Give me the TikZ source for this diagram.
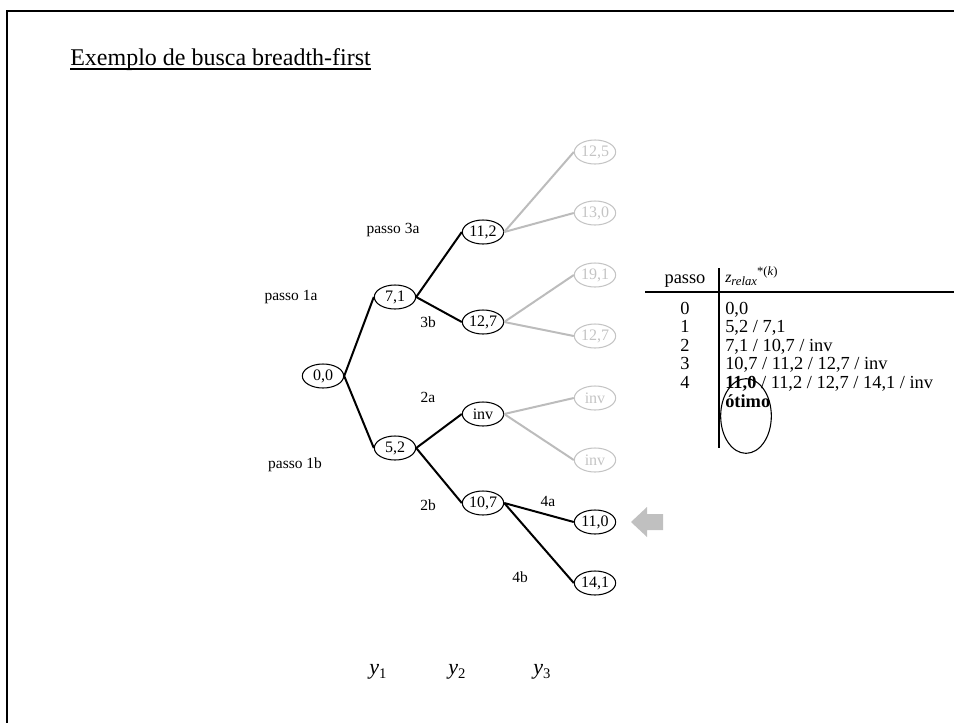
\documentclass[tikz,border=0pt]{standalone}
\usepackage{fontspec}
\setmainfont{Liberation Serif}
\usetikzlibrary{shapes.geometric}
\definecolor{lgray}{RGB}{196,196,196}
\definecolor{egray}{RGB}{188,188,188}
\definecolor{agray}{RGB}{192,192,192}
\begin{document}
\begin{tikzpicture}[x=0.75pt,y=-0.75pt,
  nd/.style={ellipse,draw,line width=0.8pt,inner sep=0pt,minimum width=31pt,minimum height=18pt,font=\fontsize{12}{13}\selectfont},
  gnd/.style={nd,draw=lgray,text=lgray},
  lbl/.style={font=\fontsize{11.6}{12}\selectfont,inner sep=0pt},
  blk/.style={line width=1.5pt},
  gry/.style={line width=1.5pt,draw=egray},
  tb/.style={font=\fontsize{13.8}{15}\selectfont,inner sep=0pt}]
\useasboundingbox (0,0) rectangle (954,722);
% frame
\draw[line width=2pt] (7,740) -- (7,11) -- (970,11);
% title
\node[anchor=base west,inner sep=0pt,font=\fontsize{18}{20}\selectfont] (title) at (70,65) {Exemplo de busca breadth-first};
\draw[line width=1.4pt] ([yshift=-3pt]title.base west) -- ([yshift=-3pt]title.base east);
% tree nodes
\node[nd] (n00) at (323,376) {0,0};
\node[nd] (n71) at (395,297) {7,1};
\node[nd] (n52) at (395,448) {5,2};
\node[nd] (n112) at (483,232) {11,2};
\node[nd] (n127) at (483,322) {12,7};
\node[nd] (ninv) at (483,414) {inv};
\node[nd] (n107) at (483,503) {10,7};
\node[gnd] (g125) at (595,152) {12,5};
\node[gnd] (g130) at (595,213) {13,0};
\node[gnd] (g191) at (595,275) {19,1};
\node[gnd] (g127) at (595,336) {12,7};
\node[gnd] (ginv1) at (595,398) {inv};
\node[gnd] (ginv2) at (595,460) {inv};
\node[nd] (n110) at (595,522) {11,0};
\node[nd] (n141) at (595,583) {14,1};
% edges
\draw[blk] (n00.east) -- (n71.west);
\draw[blk] (n00.east) -- (n52.west);
\draw[blk] (n71.east) -- (n112.west);
\draw[blk] (n71.east) -- (n127.west);
\draw[blk] (n52.east) -- (ninv.west);
\draw[blk] (n52.east) -- (n107.west);
\draw[gry] (n112.east) -- (g125.west);
\draw[gry] (n112.east) -- (g130.west);
\draw[gry] (n127.east) -- (g191.west);
\draw[gry] (n127.east) -- (g127.west);
\draw[gry] (ninv.east) -- (ginv1.west);
\draw[gry] (ninv.east) -- (ginv2.west);
\draw[blk] (n107.east) -- (n110.west);
\draw[blk] (n107.east) -- (n141.west);
% labels
\node[lbl] (l1a) at (291,297) {passo 1a};
\node[lbl] (l1b) at (295,465) {passo 1b};
\node[lbl] (l3a) at (393,230) {passo 3a};
\node[lbl] (l3b) at (428,322) {3b};
\node[lbl] (l2a) at (428,397) {2a};
\node[lbl] (l2b) at (428,505) {2b};
\node[lbl] (l4a) at (548,501) {4a};
\node[lbl] (l4b) at (520,577) {4b};
% arrow
\fill[agray] (631,522) -- (647,507) -- (647,514) -- (663,514) -- (663,530) -- (647,530) -- (647,537) -- cycle;
% table
\node[tb,anchor=base] (hp) at (685,283) {passo};
\node[anchor=base west,inner sep=0pt] (hz) at (725,282) {{\fontsize{12}{13}\selectfont\itshape z\raisebox{-0.45ex}{\fontsize{9.5}{10}\selectfont relax}}\raisebox{1.1ex}{\fontsize{9.5}{10}\selectfont *(\textit{k})}};
\draw[line width=2pt] (645,292) -- (960,292);
\draw[line width=2pt] (719,268) -- (719,448);
\node[tb,anchor=base] (s0) at (685,314) {0};
\node[tb,anchor=base] (s1) at (685,332) {1};
\node[tb,anchor=base] (s2) at (685,351) {2};
\node[tb,anchor=base] (s3) at (685,369) {3};
\node[tb,anchor=base] (s4) at (685,388) {4};
\node[tb,anchor=base west] (r0) at (725,314) {0,0};
\node[tb,anchor=base west] (r1) at (725,332) {5,2 / 7,1};
\node[tb,anchor=base west] (r2) at (725,351) {7,1 / 10,7 / inv};
\node[tb,anchor=base west] (r3) at (725,369) {10,7 / 11,2 / 12,7 / inv};
\node[tb,anchor=base west] (r4) at (725,388) {\textbf{11,0} / 11,2 / 12,7 / 14,1 / inv};
\node[tb,anchor=base west] (ot) at (725,407) {\textbf{ótimo}};
\node[ellipse,draw,line width=0.8pt,minimum width=38pt,minimum height=56pt,inner sep=0pt] (circ) at (746,416) {};
% axis labels
\node[inner sep=0pt,font=\fontsize{16.5}{18}\selectfont] (y1) at (378,672) {\textit{y}\raisebox{-0.35ex}{\fontsize{11}{12}\selectfont 1}};
\node[inner sep=0pt,font=\fontsize{16.5}{18}\selectfont] (y2) at (457,672) {\textit{y}\raisebox{-0.35ex}{\fontsize{11}{12}\selectfont 2}};
\node[inner sep=0pt,font=\fontsize{16.5}{18}\selectfont] (y3) at (542,672) {\textit{y}\raisebox{-0.35ex}{\fontsize{11}{12}\selectfont 3}};
\end{tikzpicture}
\end{document}
